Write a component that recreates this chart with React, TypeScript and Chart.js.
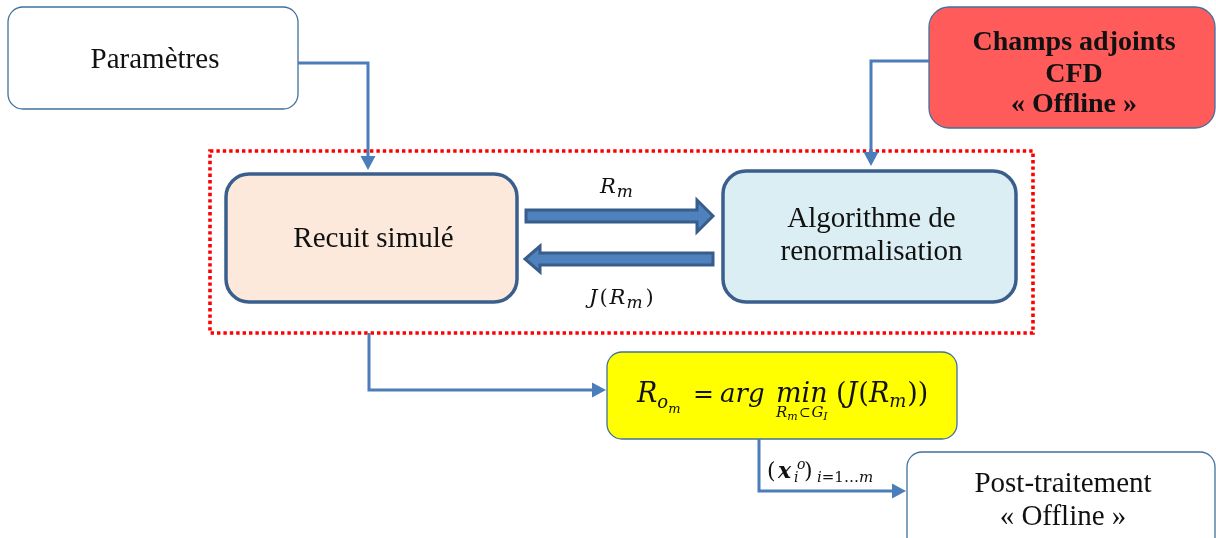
import React, { useEffect, useRef } from "react";
import { Chart, registerables } from "chart.js";

Chart.register(...registerables);

const W = 1216;
const H = 538;

// ---- Nodes (diagram boxes) ----
const boxLines: string[][] = [
  ["Paramètres"],
  ["Champs adjoints", "CFD", "« Offline »"],
  ["Recuit simulé"],
  ["Algorithme de", "renormalisation"],
  [],
  ["Post-traitement", "« Offline »"],
];
const boxLeft = [8, 929, 226, 723, 607, 907];
const boxRight = [298, 1215, 517, 1016, 957, 1215];
const boxTop = [7, 7, 174, 171, 352, 452];
const boxBottom = [109, 128, 302, 302, 439, 570];
const boxBaselines: number[][] = [[68], [50, 82, 112], [247], [227, 260], [], [492, 525]];

// ---- Dotted frame ----
const frameX = [210, 1033];
const frameY = [151, 333];

// ---- Connectors (last point = base of arrow head) ----
const connectors: number[][][] = [
  [[298, 63], [368, 63], [368, 156]],
  [[929, 61], [871, 61], [871, 152]],
  [[369, 333], [369, 390], [592, 390]],
  [[759, 439], [759, 491], [892, 491]],
];

// ---- Block arrows between the two inner boxes ----
const blockArrowFrom = [526, 713];
const blockArrowTo = [713, 525];
const blockArrowY = [216, 259];

// ---- Styles (kept separate from data) ----
const boxStyle = [
  { fill: "#FFFFFF", stroke: "#41719C", width: 1.3, radius: 15, bold: false },
  { fill: "#FF5B5B", stroke: "#41719C", width: 1.3, radius: 20, bold: true },
  { fill: "#FCE9DB", stroke: "#3A5F8C", width: 3.5, radius: 23, bold: false },
  { fill: "#DAEEF3", stroke: "#3A5F8C", width: 3.5, radius: 23, bold: false },
  { fill: "#FFFF00", stroke: "#41719C", width: 1.3, radius: 15, bold: false },
  { fill: "#FFFFFF", stroke: "#41719C", width: 1.3, radius: 15, bold: false },
];
const SERIF = '"Liberation Serif", "Times New Roman", serif';
const MATH = '"DejaVu Serif", serif';
const LINE_COLOR = "#4A7DBA";

type Run = {
  t: string;
  size?: number;
  dy?: number;
  it?: boolean;
  bold?: boolean;
  at?: number;
  gap?: number;
  noAdvance?: boolean;
  under?: Run[];
  underDy?: number;
};

const formulaRuns: Run[] = [
  { t: "R", size: 27, it: true, at: 0 },
  { t: "o", size: 18, dy: 6, it: true },
  { t: "m", size: 13, dy: 11, it: true },
  { t: "=", size: 25, at: 56 },
  { t: "arg", size: 26, it: true, at: 83 },
  {
    t: "min",
    size: 27,
    it: true,
    at: 139,
    underDy: 15,
    under: [
      { t: "R", size: 15, it: true },
      { t: "m", size: 11, dy: 3, it: true },
      { t: "⊂", size: 14, gap: 1 },
      { t: "G", size: 15, it: true, gap: 1 },
      { t: "I", size: 11, dy: 3, it: true },
    ],
  },
  { t: "(", size: 27, at: 199 },
  { t: "J", size: 27, it: true },
  { t: "(", size: 27, gap: 1 },
  { t: "R", size: 27, it: true },
  { t: "m", size: 18, dy: 5, it: true },
  { t: "))", size: 27, gap: 1 },
];
const rmRuns: Run[] = [
  { t: "R", size: 21, it: true },
  { t: "m", size: 17, dy: 4, it: true, gap: 1 },
];
const jrmRuns: Run[] = [
  { t: "J", size: 21, it: true },
  { t: "(", size: 21, gap: 2 },
  { t: "R", size: 21, it: true, gap: 2 },
  { t: "m", size: 17, dy: 4, it: true, gap: 1 },
  { t: ")", size: 21, gap: 3 },
];
const xiRuns: Run[] = [
  { t: "(", size: 22, at: 0 },
  { t: "x", size: 22, it: true, bold: true, at: 11 },
  { t: "o", size: 14, dy: -9, it: true, at: 30 },
  { t: "i", size: 14, dy: 4, it: true, at: 27 },
  { t: ")", size: 22, at: 37 },
  { t: "i", size: 15, dy: 4, it: true, at: 50 },
  { t: "=1…", size: 15, dy: 4 },
  { t: "m", size: 15, dy: 4, it: true },
];
const mathLabels = [
  { runs: formulaRuns, x: 637, y: 402 },
  { runs: rmRuns, x: 600, y: 193 },
  { runs: jrmRuns, x: 589, y: 304 },
  { runs: xiRuns, x: 767, y: 478 },
];

function setFont(ctx: CanvasRenderingContext2D, r: Run) {
  ctx.font = `${r.it ? "italic " : ""}${r.bold ? "bold " : ""}${r.size || 23}px ${MATH}`;
}
function runsWidth(ctx: CanvasRenderingContext2D, runs: Run[]) {
  let w = 0;
  for (const r of runs) {
    setFont(ctx, r);
    w += (r.gap || 0) + (r.noAdvance ? 0 : ctx.measureText(r.t).width);
  }
  return w;
}
function drawRuns(ctx: CanvasRenderingContext2D, runs: Run[], x: number, y: number) {
  let cx = x;
  for (const r of runs) {
    if (r.at !== undefined) cx = x + r.at;
    cx += r.gap || 0;
    setFont(ctx, r);
    ctx.fillText(r.t, cx, y + (r.dy || 0));
    const w = ctx.measureText(r.t).width;
    if (r.under) {
      const uw = runsWidth(ctx, r.under);
      drawRuns(ctx, r.under, cx + w / 2 - uw / 2, y + (r.underDy || 14));
    }
    if (!r.noAdvance) cx += w;
  }
}

function roundRect(ctx: CanvasRenderingContext2D, x0: number, y0: number, x1: number, y1: number, r: number) {
  ctx.beginPath();
  ctx.moveTo(x0 + r, y0);
  ctx.lineTo(x1 - r, y0);
  ctx.arcTo(x1, y0, x1, y0 + r, r);
  ctx.lineTo(x1, y1 - r);
  ctx.arcTo(x1, y1, x1 - r, y1, r);
  ctx.lineTo(x0 + r, y1);
  ctx.arcTo(x0, y1, x0, y1 - r, r);
  ctx.lineTo(x0, y0 + r);
  ctx.arcTo(x0, y0, x0 + r, y0, r);
  ctx.closePath();
}

const diagramPlugin = {
  id: "diagram",
  beforeDatasetsDraw(chart: any) {
    const ctx: CanvasRenderingContext2D = chart.ctx;
    const xs = chart.scales.x;
    const ys = chart.scales.y;
    const px = (v: number) => xs.getPixelForValue(v);
    const py = (v: number) => ys.getPixelForValue(v);
    ctx.save();
    // dotted frame
    ctx.strokeStyle = "#FF0000";
    ctx.lineWidth = 3.6;
    ctx.setLineDash([3.4, 3]);
    ctx.strokeRect(px(frameX[0]), py(frameY[0]), px(frameX[1]) - px(frameX[0]), py(frameY[1]) - py(frameY[0]));
    ctx.setLineDash([]);
    // boxes
    for (let i = 0; i < boxLeft.length; i++) {
      const s = boxStyle[i];
      roundRect(ctx, px(boxLeft[i]), py(boxTop[i]), px(boxRight[i]), py(boxBottom[i]), s.radius);
      ctx.fillStyle = s.fill;
      ctx.fill();
      ctx.strokeStyle = s.stroke;
      ctx.lineWidth = s.width;
      ctx.stroke();
      ctx.fillStyle = "#111111";
      ctx.textAlign = "center";
      ctx.textBaseline = "alphabetic";
      ctx.font = `${s.bold ? "bold 28px" : "29px"} ${SERIF}`;
      const cx = (px(boxLeft[i]) + px(boxRight[i])) / 2 + 2;
      boxLines[i].forEach((line, j) => ctx.fillText(line, cx, py(boxBaselines[i][j])));
    }
    ctx.restore();
  },
  afterDatasetsDraw(chart: any) {
    const ctx: CanvasRenderingContext2D = chart.ctx;
    const xs = chart.scales.x;
    const ys = chart.scales.y;
    const px = (v: number) => xs.getPixelForValue(v);
    const py = (v: number) => ys.getPixelForValue(v);
    ctx.save();
    // connector arrow heads
    ctx.fillStyle = LINE_COLOR;
    for (const path of connectors) {
      const a = path[path.length - 2];
      const b = path[path.length - 1];
      const dx = Math.sign(b[0] - a[0]);
      const dy = Math.sign(b[1] - a[1]);
      const bx = px(b[0]);
      const by = py(b[1]);
      const L = 14;
      const hw = 7.5;
      ctx.beginPath();
      ctx.moveTo(bx + dx * L, by + dy * L);
      ctx.lineTo(bx - dy * hw, by + dx * hw);
      ctx.lineTo(bx + dy * hw, by - dx * hw);
      ctx.closePath();
      ctx.fill();
    }
    // block arrows
    for (let i = 0; i < blockArrowFrom.length; i++) {
      const x0 = px(blockArrowFrom[i]);
      const x1 = px(blockArrowTo[i]);
      const y = py(blockArrowY[i]);
      const dir = Math.sign(x1 - x0);
      const headLen = i === 0 ? 16 : 15;
      const headHw = i === 0 ? 16 : 13;
      const bodyHw = 6;
      const hb = x1 - dir * headLen;
      ctx.beginPath();
      ctx.moveTo(x0, y - bodyHw);
      ctx.lineTo(hb, y - bodyHw);
      ctx.lineTo(hb, y - headHw);
      ctx.lineTo(x1, y);
      ctx.lineTo(hb, y + headHw);
      ctx.lineTo(hb, y + bodyHw);
      ctx.lineTo(x0, y + bodyHw);
      ctx.closePath();
      ctx.fillStyle = "#4F81BD";
      ctx.fill();
      ctx.strokeStyle = "#385D8A";
      ctx.lineWidth = 3;
      ctx.lineJoin = "miter";
      ctx.stroke();
    }
    // math labels
    ctx.fillStyle = "#111111";
    ctx.textAlign = "left";
    ctx.textBaseline = "alphabetic";
    for (const m of mathLabels) drawRuns(ctx, m.runs, px(m.x), py(m.y));
    ctx.restore();
  },
};

export default function App() {
  const ref = useRef<HTMLCanvasElement | null>(null);
  useEffect(() => {
    if (!ref.current) return;
    const chart = new Chart(ref.current, {
      type: "scatter",
      data: {
        datasets: connectors.map((path) => ({
          data: path.map((p) => ({ x: p[0], y: p[1] })),
          showLine: true,
          borderColor: LINE_COLOR,
          borderWidth: 3,
          pointRadius: 0,
          tension: 0,
          fill: false,
          borderCapStyle: "butt" as const,
          borderJoinStyle: "miter" as const,
        })),
      },
      options: {
        responsive: false,
        animation: false,
        events: [],
        layout: { padding: 0 },
        plugins: { legend: { display: false }, tooltip: { enabled: false } },
        scales: {
          x: { type: "linear", min: 0, max: W, display: false },
          y: { type: "linear", min: 0, max: H, reverse: true, display: false },
        },
      },
      plugins: [diagramPlugin],
    });
    return () => chart.destroy();
  }, []);
  return (
    <div style={{ position: "absolute", left: 0, top: 0, width: W, height: H, background: "#FFFFFF" }}>
      <canvas ref={ref} width={W} height={H} style={{ display: "block", width: W, height: H }} />
    </div>
  );
}
